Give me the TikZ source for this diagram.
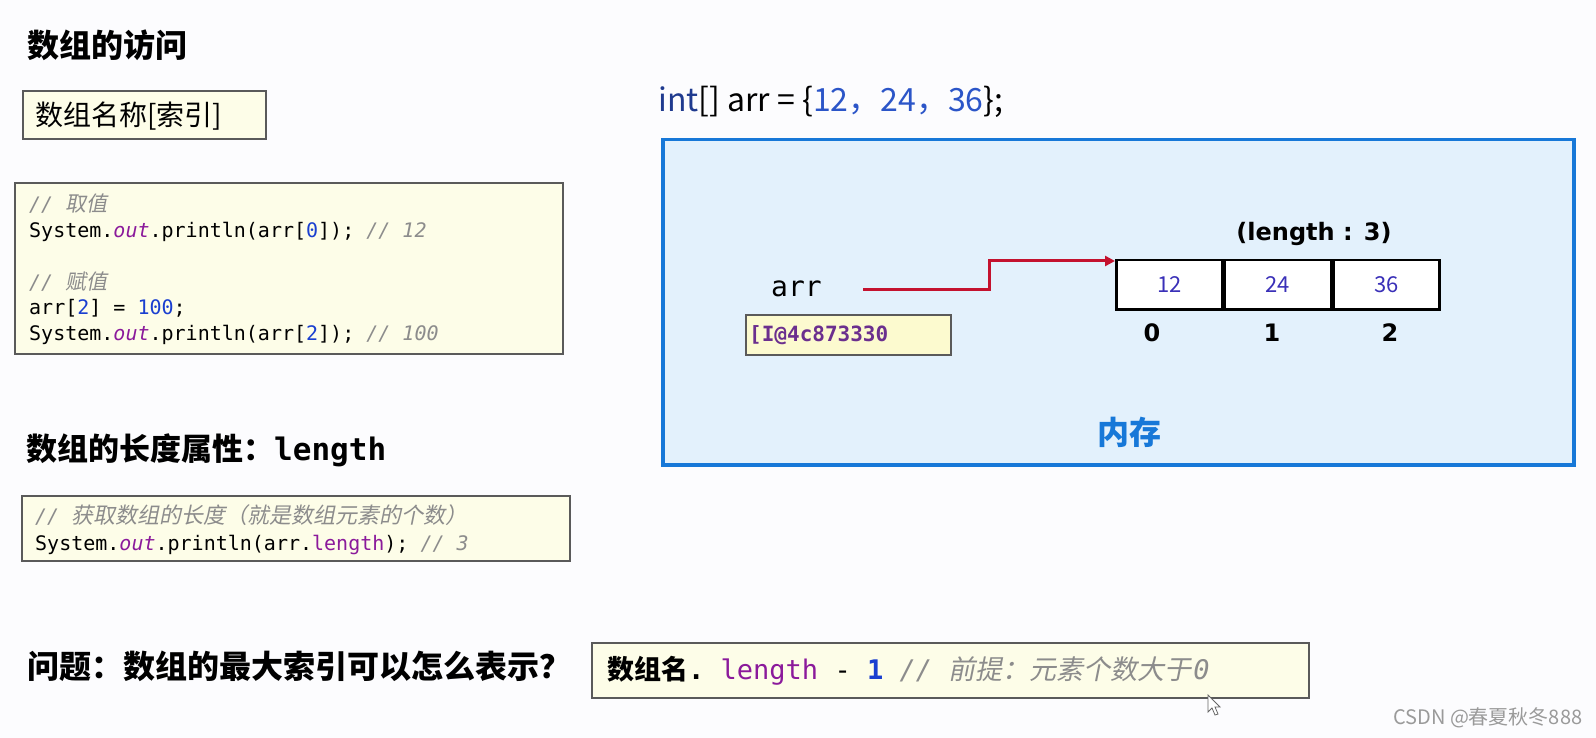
\documentclass[tikz,border=0pt]{standalone}
\usepackage{fontspec}
\setmainfont{Noto Sans CJK SC}
\setmonofont{DejaVu Sans Mono}
\newfontfamily\cjk{Noto Sans CJK SC}
\newfontfamily\cjkit{Noto Sans CJK SC}[FakeSlant=0.2]
\newfontfamily\djs{DejaVu Sans}
\usetikzlibrary{arrows.meta}

\definecolor{bg}{HTML}{FCFCFE}
\definecolor{ybg}{HTML}{FDFDE8}
\definecolor{boxgray}{HTML}{5A5A5A}
\definecolor{jpurple}{HTML}{8B1A9B}
\definecolor{jblue}{HTML}{1A3FD0}
\definecolor{cmtgray}{HTML}{8C8C8C}
\definecolor{memfill}{HTML}{E3F1FC}
\definecolor{memblue}{HTML}{1778D8}
\definecolor{arrred}{HTML}{C4122E}
\definecolor{cellblue}{HTML}{3A30B8}
\definecolor{addrpurple}{HTML}{6B2F8E}
\definecolor{addrfill}{HTML}{FCFACF}
\definecolor{wmgray}{HTML}{9A9A9A}
\definecolor{intblue}{HTML}{1F3A8F}
\definecolor{numblue}{HTML}{2B55C8}

\newcommand\jout{\textcolor{jpurple}{\itshape out}}
\newcommand\jnum[1]{\textcolor{jblue}{#1}}
\newcommand\cmt[1]{\textcolor{cmtgray}{\itshape #1}}
\newcommand\zh[2][21]{{\cjkit\upshape\fontsize{#1}{24}\selectfont #2}}

\tikzset{
  head/.style={anchor=west, inner sep=0pt, font=\fontsize{32}{36}\selectfont\bfseries},
  ybox/.style={draw=boxgray, fill=ybg, line width=1.5pt, inner sep=0pt, outer sep=0pt, anchor=north west},
  codeln/.style={anchor=base west, inner sep=0pt, font=\fontsize{20}{24}\selectfont\ttfamily},
  txt/.style={anchor=west, inner sep=0pt},
  membox/.style={draw=memblue, fill=memfill, line width=3.5pt, minimum width=911pt, minimum height=325pt, anchor=north west, inner sep=0pt},
  cell/.style={draw=black, line width=2.5pt, fill=white, minimum width=106pt, minimum height=49pt, inner sep=0pt, anchor=north west, font=\fontsize{22}{26}\selectfont, text=cellblue},
  idx/.style={inner sep=0pt, font=\fontsize{24}{28}\selectfont\djs\bfseries},
  ptr/.style={arrred, line width=3pt, -{Triangle[length=10pt,width=10pt]}},
}

\begin{document}
\begin{tikzpicture}[x=1pt,y=-1pt]
\useasboundingbox (0,0) rectangle (1596,738);
\fill[bg] (0,0) rectangle (1596,738);

% ---- left column ----
\node[head] (t1) at (27,45) {数组的访问};
\node[ybox, minimum width=243pt, minimum height=48pt] (b1) at (23,91) {};
\node[txt, font=\fontsize{28}{32}\selectfont] (b1t) at (35,116) {数组名称[索引]};

\node[ybox, minimum width=548pt, minimum height=171pt] (ca) at (15,183) {};
\node[codeln] (ca1) at (29,212) {\cmt{// \zh{取值}}};
\node[codeln] (ca2) at (29,237) {System.\jout.println(arr[\jnum{0}]); \cmt{// 12}};
\node[codeln] (ca3) at (29,290) {\cmt{// \zh{赋值}}};
\node[codeln] (ca4) at (29,314) {arr[\jnum{2}] = \jnum{100};};
\node[codeln] (ca5) at (29,340) {System.\jout.println(arr[\jnum{2}]); \cmt{// 100}};

\node[head, font=\fontsize{31}{36}\selectfont\bfseries] (t2) at (26,450) {数组的长度属性：{\ttfamily length}};
\node[ybox, minimum width=548pt, minimum height=65pt] (cb) at (22,496) {};
\node[codeln] (cb1) at (35,523) {\cmt{// \zh[22]{获取数组的长度（就是数组元素的个数）}}};
\node[codeln] (cb2) at (35,550) {System.\jout.println(arr.\textcolor{jpurple}{length}); \cmt{// 3}};

\node[head] (t3) at (27,666) {问题：数组的最大索引可以怎么表示？};
\node[ybox, minimum width=717pt, minimum height=55pt] (bc) at (592,643) {};
\node[txt, font=\fontsize{27}{30}\selectfont] (bct) at (607,671) {{\bfseries 数组名}{\ttfamily\bfseries .\ }{\ttfamily\textcolor{jpurple}{length} - \textcolor{jblue}{\bfseries 1} \cmt{// {\cjkit\upshape 前提：元素个数大于}\kern2pt 0}}};
\draw[fill=white, draw=black!60, line width=0.8pt] (1208,695) -- (1208,712) -- (1212,708) -- (1215,715) -- (1218,714) -- (1215,707) -- (1220,707) -- cycle;

% ---- right side ----
\node[txt, font=\fontsize{32}{36}\selectfont] (decl) at (658,102) {\textcolor{intblue}{int}[] arr = \{\textcolor{numblue}{12，24，36}\};};
\node[membox] (mem) at (661,138) {};
\node[inner sep=0pt, font=\fontsize{32}{36}\selectfont\bfseries, text=memblue] (memlbl) at (1129,432) {内存};

\node[cell] (c0) at (1115,259) {12};
\node[cell] (c1) at (c0.north east) {24};
\node[cell] (c2) at (c1.north east) {36};
\node[idx] (len) at (1314,234) {(length : 3)};
\node[idx] (i0) at (1152,333) {0};
\node[idx] (i1) at (1272,333) {1};
\node[idx] (i2) at (1390,333) {2};

\node[txt, font=\fontsize{28}{32}\selectfont\ttfamily] (arr) at (771,289) {arr};
\node[draw=boxgray, fill=addrfill, line width=2pt, minimum width=205pt, minimum height=40pt, anchor=north west, inner sep=0pt] (addr) at (745,314) {};
\node[txt, font=\fontsize{21}{24}\selectfont\ttfamily\bfseries, text=addrpurple] (addrt) at (749,335) {[I@4c873330};

\coordinate (astart) at (863,289);
\draw[ptr] (astart) -- ++(126,0) |- ([yshift=-2pt]c0.north west);

\node[txt, font=\fontsize{20}{24}\selectfont, text=wmgray] (wm) at (1393,718) {CSDN @春夏秋冬888};
\end{tikzpicture}
\end{document}
